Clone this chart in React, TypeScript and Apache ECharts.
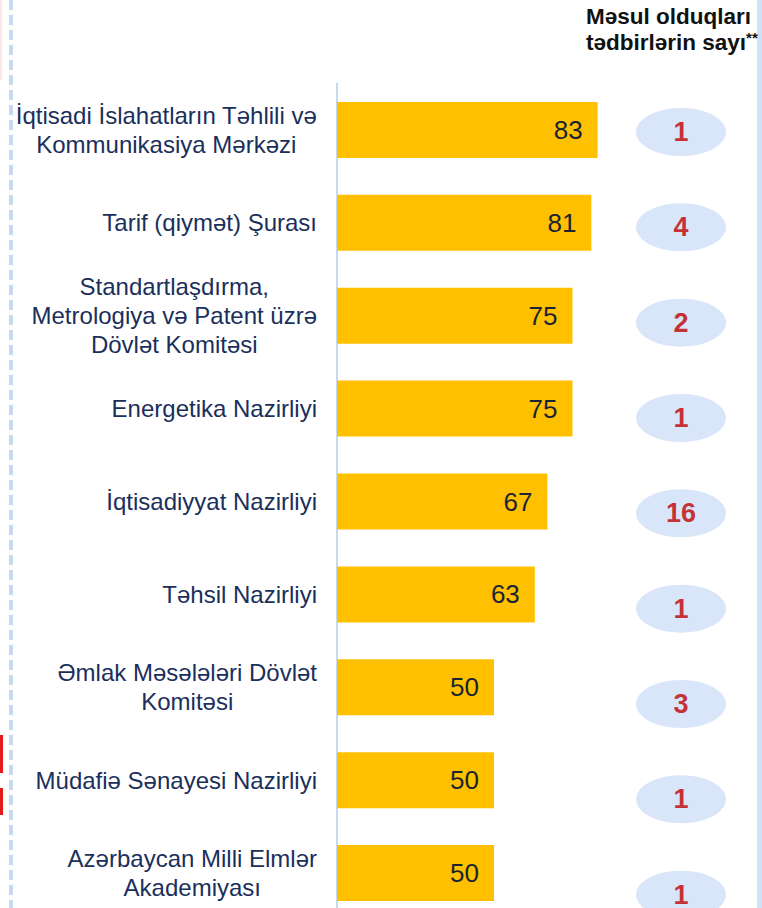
import React, { useEffect, useRef } from "react";
import * as echarts from "echarts";

const categories: string[] = [
  "İqtisadi İslahatların Təhlili və\nKommunikasiya Mərkəzi",
  "Tarif (qiymət) Şurası",
  "Standartlaşdırma,\nMetrologiya və Patent üzrə\nDövlət Komitəsi",
  "Energetika Nazirliyi",
  "İqtisadiyyat Nazirliyi",
  "Təhsil Nazirliyi",
  "Əmlak Məsələləri Dövlət\nKomitəsi",
  "Müdafiə Sənayesi Nazirliyi",
  "Azərbaycan Milli Elmlər\nAkademiyası",
];
const scores: number[] = [83, 81, 75, 75, 67, 63, 50, 50, 50];
const measureCounts: number[] = [1, 4, 2, 1, 16, 1, 3, 1, 1];
const headerLines: string[] = ["Məsul olduqları", "tədbirlərin sayı"];
const headerMark = "**";

const FONT = "'Liberation Sans', Arial, sans-serif";

export default function App() {
  const ref = useRef<HTMLDivElement>(null);
  useEffect(() => {
    if (!ref.current) return;
    const chart = echarts.init(ref.current, null, { renderer: "svg" });
    chart.setOption({
      animation: false,
      backgroundColor: "#ffffff",
      grid: [
        { left: 337, top: 83.5, width: 314, height: 836, containLabel: false },
        { left: 636, top: 84.3, width: 90, height: 858, containLabel: false },
      ],
      xAxis: [
        { type: "value", gridIndex: 0, min: 0, max: 100, show: false },
        { type: "value", gridIndex: 1, min: -1, max: 1, show: false },
      ],
      yAxis: [
        {
          type: "category",
          gridIndex: 0,
          inverse: true,
          data: categories,
          axisLine: { show: true, lineStyle: { color: "#C6D9F0", width: 2 } },
          axisTick: { show: false },
          axisLabel: {
            margin: 20,
            align: "right",
            formatter: (v: string) =>
              v
                .split("\n")
                .map((l) => `{c|${l}}`)
                .join("\n"),
            rich: {
              c: {
                align: "center",
                fontSize: 24,
                lineHeight: 29,
                color: "#1B2F5B",
                fontFamily: FONT,
              },
            },
          },
        },
        {
          type: "category",
          gridIndex: 1,
          inverse: true,
          data: categories,
          show: false,
        },
      ],
      series: [
        {
          type: "bar",
          xAxisIndex: 0,
          yAxisIndex: 0,
          data: scores,
          barWidth: 56,
          itemStyle: { color: "#FFC000" },
          label: {
            show: true,
            position: "insideRight",
            distance: 15,
            fontSize: 26,
            color: "#1A2533",
            fontFamily: FONT,
          },
        },
        {
          type: "scatter",
          xAxisIndex: 1,
          yAxisIndex: 1,
          symbol: "circle",
          symbolSize: [90, 48],
          itemStyle: { color: "#CFDFF7" },
          data: measureCounts.map((c, i) => [0, i]),
          label: {
            show: true,
            position: "inside",
            formatter: (p: any) => String(measureCounts[p.dataIndex]),
            fontSize: 27,
            fontWeight: "bold",
            color: "#C00000",
            fontFamily: FONT,
          },
        },
      ],
      graphic: [
        {
          type: "rect",
          shape: { x: 0, y: 0, width: 2, height: 80 },
          style: { fill: "#FBE6E3" },
        },
        {
          type: "line",
          shape: { x1: 11, y1: 0, x2: 11, y2: 960 },
          style: { stroke: "#C6D9F1", lineWidth: 4, lineDash: [10, 5] },
        },
        {
          type: "rect",
          shape: { x: 757, y: 0, width: 5, height: 960 },
          style: { fill: "#CFE0F8" },
        },
        {
          type: "rect",
          shape: { x: 0, y: 735, width: 3, height: 38 },
          style: { fill: "#E31B1B" },
        },
        {
          type: "rect",
          shape: { x: 0, y: 788, width: 3, height: 27 },
          style: { fill: "#E31B1B" },
        },
        {
          type: "text",
          left: 586,
          top: 5,
          style: {
            text: `{h|${headerLines[0]}}\n{h|${headerLines[1]}}{s|${headerMark}}`,
            rich: {
              h: {
                fontFamily: FONT,
                fontWeight: "bold",
                fontSize: 22.5,
                lineHeight: 26,
                fill: "#111111",
              },
              s: {
                fontFamily: FONT,
                fontWeight: "bold",
                fontSize: 15,
                lineHeight: 26,
                verticalAlign: "top",
                fill: "#111111",
              },
            },
          },
        },
      ],
    });
    return () => chart.dispose();
  }, []);
  return (
    <div
      ref={ref}
      style={{ position: "fixed", left: 0, top: 0, width: 762, height: 960 }}
    />
  );
}
